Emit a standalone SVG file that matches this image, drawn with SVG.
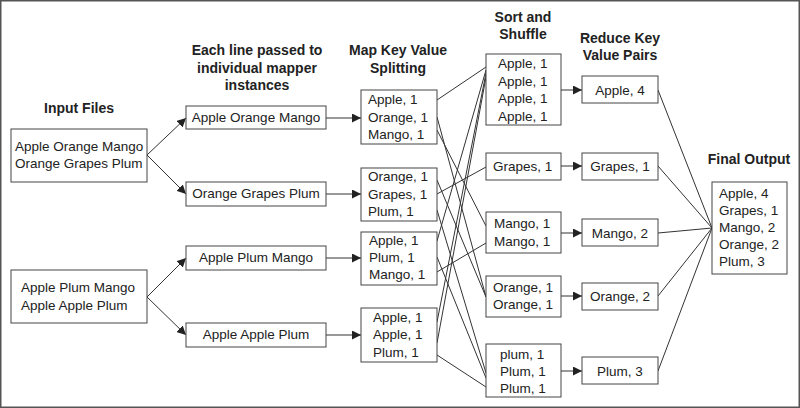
<svg xmlns="http://www.w3.org/2000/svg" width="800" height="408" viewBox="0 0 800 408">
<defs>
<style>
.bx{fill:#fff;stroke:#444;stroke-width:1}
.t{font-family:"Liberation Sans",Arial,sans-serif;font-size:13.5px;fill:#222}
.c{text-anchor:middle}
.h{font-family:"Liberation Sans",Arial,sans-serif;font-size:14px;font-weight:bold;fill:#222;text-anchor:middle}
.ln{stroke:#333;stroke-width:1;fill:none}
.ar{stroke:#333;stroke-width:1;fill:none;marker-end:url(#ah)}
</style>
<marker id="ah" viewBox="0 0 10 10" refX="10" refY="5" markerWidth="9" markerHeight="9" markerUnits="userSpaceOnUse" orient="auto">
<path d="M0,0 L10,5 L0,10 z" fill="#222"/>
</marker>
</defs>
<rect x="0" y="0" width="800" height="408" fill="#fff"/>
<rect x="0.75" y="0.75" width="798.5" height="406.5" fill="none" stroke="#555" stroke-width="1.5"/>

<g id="headers">
<text class="h" x="79" y="113">Input Files</text>
<text class="h" x="257" y="55">Each line passed to</text>
<text class="h" x="257" y="73">individual mapper</text>
<text class="h" x="257" y="90">instances</text>
<text class="h" x="398" y="55">Map Key Value</text>
<text class="h" x="398" y="73">Splitting</text>
<text class="h" x="523" y="22">Sort and</text>
<text class="h" x="523" y="39">Shuffle</text>
<text class="h" x="620" y="43">Reduce Key</text>
<text class="h" x="620" y="60">Value Pairs</text>
<text class="h" x="749" y="164">Final Output</text>
</g>

<g id="connectors">
<!-- input to lines -->
<line class="ar" x1="147" y1="155" x2="186" y2="118"/>
<line class="ar" x1="147" y1="155" x2="186" y2="194"/>
<line class="ar" x1="147" y1="297" x2="186" y2="258"/>
<line class="ar" x1="147" y1="297" x2="186" y2="335"/>
<!-- lines to map -->
<line class="ar" x1="326" y1="118" x2="361" y2="118"/>
<line class="ar" x1="326" y1="194" x2="361" y2="194"/>
<line class="ar" x1="326" y1="258" x2="361" y2="258"/>
<line class="ar" x1="326" y1="335" x2="361" y2="335"/>
<!-- map to sort -->
<line class="ln" x1="437" y1="100" x2="486" y2="67"/>
<line class="ln" x1="437" y1="117" x2="486" y2="297"/>
<line class="ln" x1="437" y1="130" x2="486" y2="226"/>
<line class="ln" x1="437" y1="180" x2="486" y2="297"/>
<line class="ln" x1="437" y1="194" x2="486" y2="167"/>
<line class="ln" x1="437" y1="210" x2="486" y2="373"/>
<line class="ln" x1="437" y1="241" x2="486" y2="70"/>
<line class="ln" x1="437" y1="257" x2="486" y2="378"/>
<line class="ln" x1="437" y1="272" x2="486" y2="243"/>
<line class="ln" x1="437" y1="322" x2="486" y2="73"/>
<line class="ln" x1="437" y1="343" x2="486" y2="77"/>
<line class="ln" x1="437" y1="355" x2="486" y2="387"/>
<!-- sort to reduce -->
<line class="ar" x1="561" y1="90" x2="582" y2="90"/>
<line class="ar" x1="561" y1="166" x2="582" y2="166"/>
<line class="ar" x1="561" y1="233" x2="582" y2="233"/>
<line class="ar" x1="561" y1="296" x2="582" y2="296"/>
<line class="ar" x1="561" y1="371" x2="582" y2="371"/>
<!-- reduce to final -->
<line class="ln" x1="658" y1="90" x2="712" y2="228"/>
<line class="ln" x1="658" y1="166" x2="712" y2="228"/>
<line class="ln" x1="658" y1="233" x2="712" y2="228"/>
<line class="ln" x1="658" y1="296" x2="712" y2="228"/>
<line class="ln" x1="658" y1="371" x2="712" y2="228"/>
</g>

<g id="input1">
<rect class="bx" x="11" y="129" width="136" height="53"/>
<text class="t" x="15" y="151">Apple Orange Mango</text>
<text class="t" x="15" y="168">Orange Grapes Plum</text>
</g>
<g id="input2">
<rect class="bx" x="11" y="270" width="136" height="53"/>
<text class="t" x="21" y="292">Apple Plum Mango</text>
<text class="t" x="21" y="310">Apple Apple Plum</text>
</g>

<g id="line1">
<rect class="bx" x="186" y="106" width="140" height="23"/>
<text class="t c" x="256" y="122">Apple Orange Mango</text>
</g>
<g id="line2">
<rect class="bx" x="186" y="182" width="140" height="24"/>
<text class="t c" x="256" y="198">Orange Grapes Plum</text>
</g>
<g id="line3">
<rect class="bx" x="186" y="246" width="140" height="24"/>
<text class="t c" x="256" y="262">Apple Plum Mango</text>
</g>
<g id="line4">
<rect class="bx" x="186" y="323" width="140" height="24"/>
<text class="t c" x="256" y="339">Apple Apple Plum</text>
</g>

<g id="map1">
<rect class="bx" x="361" y="90" width="76" height="54"/>
<text class="t" x="368" y="104">Apple, 1</text>
<text class="t" x="368" y="122">Orange, 1</text>
<text class="t" x="368" y="139">Mango, 1</text>
</g>
<g id="map2">
<rect class="bx" x="361" y="168" width="76" height="53"/>
<text class="t" x="368" y="181">Orange, 1</text>
<text class="t" x="368" y="199">Grapes, 1</text>
<text class="t" x="368" y="216">Plum, 1</text>
</g>
<g id="map3">
<rect class="bx" x="361" y="232" width="76" height="53"/>
<text class="t" x="369" y="245">Apple, 1</text>
<text class="t" x="369" y="262">Plum, 1</text>
<text class="t" x="369" y="279">Mango, 1</text>
</g>
<g id="map4">
<rect class="bx" x="361" y="308" width="76" height="54"/>
<text class="t" x="373" y="322">Apple, 1</text>
<text class="t" x="373" y="339">Apple, 1</text>
<text class="t" x="373" y="357">Plum, 1</text>
</g>

<g id="sort1">
<rect class="bx" x="486" y="54" width="75" height="71"/>
<text class="t" x="498" y="68">Apple, 1</text>
<text class="t" x="498" y="86">Apple, 1</text>
<text class="t" x="498" y="103">Apple, 1</text>
<text class="t" x="498" y="121">Apple, 1</text>
</g>
<g id="sort2">
<rect class="bx" x="486" y="153" width="75" height="27"/>
<text class="t" x="493" y="171">Grapes, 1</text>
</g>
<g id="sort3">
<rect class="bx" x="486" y="212" width="75" height="41"/>
<text class="t" x="494" y="228">Mango, 1</text>
<text class="t" x="494" y="246">Mango, 1</text>
</g>
<g id="sort4">
<rect class="bx" x="486" y="276" width="75" height="41"/>
<text class="t" x="493" y="292">Orange, 1</text>
<text class="t" x="493" y="309">Orange, 1</text>
</g>
<g id="sort5">
<rect class="bx" x="486" y="344" width="75" height="53"/>
<text class="t" x="500" y="359">plum, 1</text>
<text class="t" x="500" y="376">Plum, 1</text>
<text class="t" x="500" y="393">Plum, 1</text>
</g>

<g id="reduce1">
<rect class="bx" x="582" y="76" width="76" height="27"/>
<text class="t c" x="620" y="95">Apple, 4</text>
</g>
<g id="reduce2">
<rect class="bx" x="582" y="153" width="76" height="27"/>
<text class="t c" x="620" y="171">Grapes, 1</text>
</g>
<g id="reduce3">
<rect class="bx" x="582" y="219" width="76" height="27"/>
<text class="t c" x="620" y="238">Mango, 2</text>
</g>
<g id="reduce4">
<rect class="bx" x="582" y="283" width="76" height="27"/>
<text class="t c" x="620" y="301">Orange, 2</text>
</g>
<g id="reduce5">
<rect class="bx" x="582" y="357" width="76" height="27"/>
<text class="t c" x="620" y="376">Plum, 3</text>
</g>

<g id="final">
<rect class="bx" x="712" y="182" width="75" height="92"/>
<text class="t" x="719" y="198">Apple, 4</text>
<text class="t" x="719" y="215">Grapes, 1</text>
<text class="t" x="719" y="232">Mango, 2</text>
<text class="t" x="719" y="249">Orange, 2</text>
<text class="t" x="719" y="266">Plum, 3</text>
</g>
</svg>
